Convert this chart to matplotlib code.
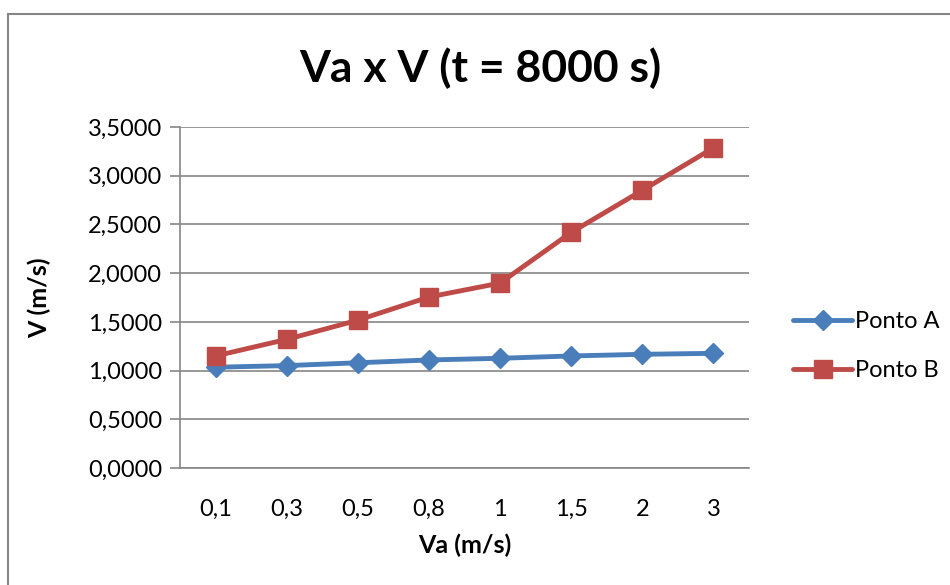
import matplotlib
matplotlib.use("Agg")
import matplotlib.pyplot as plt
from matplotlib.patches import Rectangle
import matplotlib.ticker as ticker

plt.rcParams["font.family"] = ["Lato", "DejaVu Sans"]

# dados
va_labels = ["0,1", "0,3", "0,5", "0,8", "1", "1,5", "2", "3"]
ponto_a = [1.034, 1.051, 1.080, 1.109, 1.126, 1.150, 1.167, 1.177]
ponto_b = [1.150, 1.320, 1.517, 1.755, 1.898, 2.418, 2.850, 3.286]

fig = plt.figure(figsize=(9.5, 5.85), dpi=100)
ax = fig.add_axes([180 / 950, 1 - 468 / 585, 569 / 950, 341 / 585])

# borda do grafico (estilo Excel)
fig.patches.append(Rectangle((8 / 950, -0.1), 1.2, 1.1 - 14 / 585,
                             transform=fig.transFigure, fill=False,
                             edgecolor="#868686", linewidth=1.5))

x = range(len(va_labels))
ax.plot(x, ponto_a, color="#4a7ebb", linewidth=3.5, marker="D",
        markersize=10, label="Ponto A", solid_capstyle="round")
ax.plot(x, ponto_b, color="#be4b48", linewidth=3.5, marker="s",
        markersize=13, label="Ponto B", solid_capstyle="round")

ax.set_xlim(-0.5, len(va_labels) - 0.5)
ax.set_ylim(0, 3.5)
ax.set_xticks(list(x))
ax.set_xticklabels(va_labels)
ax.yaxis.set_major_locator(ticker.MultipleLocator(0.5))
ax.yaxis.set_major_formatter(
    ticker.FuncFormatter(lambda v, p: ("%.4f" % v).replace(".", ",")))

ax.grid(axis="y", color="#868686", linewidth=1.2)
ax.set_axisbelow(True)
for s in ["top", "right"]:
    ax.spines[s].set_visible(False)
ax.spines["left"].set_color("#868686")
ax.spines["bottom"].set_color("#868686")
ax.spines["left"].set_linewidth(1.2)
ax.spines["bottom"].set_linewidth(1.2)
ax.tick_params(axis="x", length=0, pad=22, labelsize=17)
ax.tick_params(axis="y", length=7, width=1.2, color="#868686",
               pad=6, labelsize=17)

# titulo centrado na figura
fig.text(480 / 950, 1 - 68 / 585, "Va x V (t = 8000 s)", fontsize=32,
         fontweight="bold", ha="center", va="center")
ax.set_xlabel("Va (m/s)", fontsize=18, fontweight="bold", labelpad=10)
ax.set_ylabel("V (m/s)", fontsize=18, fontweight="bold", labelpad=26)

fig.legend(loc="center left", bbox_to_anchor=(772 / 950, 1 - 346 / 585),
           frameon=False, fontsize=17, handlelength=2.5, handletextpad=0.1,
           labelspacing=1.2)

plt.savefig("out.png")
